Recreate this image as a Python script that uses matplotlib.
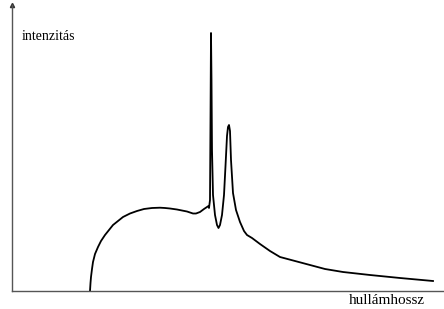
import matplotlib
matplotlib.use("Agg")
import matplotlib.pyplot as plt

# wavelength (arbitrary units) and intensity (arbitrary units)
wavelength = [78, 78.5, 79, 80, 81, 83, 86, 89, 93, 97, 101, 106, 111, 118, 125, 132,
              140, 148, 153, 158, 165, 170, 175, 178, 181, 184, 188, 192, 195, 196.5, 197,
              198, 198.5, 199, 199.5, 200, 201, 203, 205, 206.5, 208, 210, 212, 213.5,
              215, 216, 217, 218, 219, 221, 224, 228, 232, 235, 240, 248, 258, 268, 283,
              298, 313, 331, 358, 388, 421]
intensity = [0, 8, 14, 22, 29, 37, 44, 50, 56, 61, 66, 70, 74, 77.5, 80, 82,
             83, 83.3, 83, 82.5, 81.5, 80.5, 79.5, 78.5, 77.5, 77.5, 79, 82, 84, 85, 83,
             91, 171, 258, 211, 141, 96, 76, 66, 63, 66, 76, 96, 125,
             155, 164, 166, 160, 131, 98, 81, 69, 60, 56, 53, 47, 40, 34, 30,
             26, 22, 19, 16, 13, 10]

ylabel_text = "intenzitás"
xlabel_text = "hullámhossz"

fig = plt.figure(figsize=(4.44, 3.09), dpi=100)
ax = fig.add_axes([12 / 444, (309 - 291) / 309, 432 / 444, 286 / 309])
ax.set_xlim(0, 432)
ax.set_ylim(0, 286)

ax.plot(wavelength, intensity, color="black", lw=1.3, solid_joinstyle="round")

for s in ["top", "right"]:
    ax.spines[s].set_visible(False)
for s in ["left", "bottom"]:
    ax.spines[s].set_color("#555555")
    ax.spines[s].set_linewidth(1.0)
ax.set_xticks([])
ax.set_yticks([])
ax.plot([0], [286], marker="^", color="#333333", markersize=3, clip_on=False)

ax.text(10, 255, ylabel_text, fontfamily="Liberation Serif", fontsize=10,
        ha="left", va="center")
fig.text(387 / 444, 1 - 301 / 309, xlabel_text, fontfamily="Liberation Serif",
         fontsize=11, ha="center", va="center")

fig.savefig("out.png", dpi=100)
